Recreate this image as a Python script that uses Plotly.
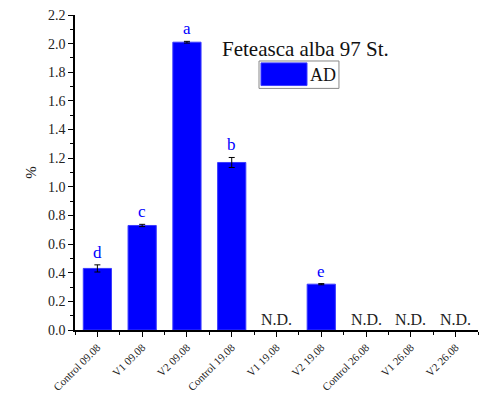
import plotly.graph_objects as go

categories = ["Control 09.08", "V1 09.08", "V2 09.08", "Control 19.08", "V1 19.08",
              "V2 19.08", "Control 26.08", "V1 26.08", "V2 26.08"]
values = [0.43, 0.73, 2.01, 1.17, None, 0.32, None, None, None]
errors = [0.025, 0.008, 0.006, 0.035, 0, 0.004, 0, 0, 0]
letters = ["d", "c", "a", "b", "", "e", "", "", ""]
nd_label = "N.D."
series_name = "AD"
title_text = "Feteasca alba 97 St."
y_ticks = [0.0, 0.2, 0.4, 0.6, 0.8, 1.0, 1.2, 1.4, 1.6, 1.8, 2.0, 2.2]

FONT = "Liberation Serif"
BLUE = "#0000ff"

xs = list(range(len(categories)))
fig = go.Figure()
fig.add_trace(go.Bar(
    x=xs, y=values,
    width=0.63, marker=dict(color=BLUE, line=dict(color="#3b3bff", width=1)),
    error_y=dict(type="data", array=errors, color="black", thickness=1, width=3),
    name=series_name, showlegend=False,
))

ann = []
for i, (v, e, l) in enumerate(zip(values, errors, letters)):
    if v is None:
        ann.append(dict(x=i, y=0, xref="x", yref="y", text=nd_label, showarrow=False,
                        yanchor="bottom", yshift=0,
                        font=dict(family=FONT, size=16, color="#222")))
    elif l:
        ann.append(dict(x=i, y=v + e, xref="x", yref="y", text=l, showarrow=False,
                        yanchor="bottom", yshift=1,
                        font=dict(family=FONT, size=17, color=BLUE)))

ann.append(dict(x=0.573, y=0.891, xref="paper", yref="paper", text=title_text,
                showarrow=False, xanchor="center", yanchor="middle",
                font=dict(family=FONT, size=21, color="#111")))
ann.append(dict(x=0.579, y=0.81, xref="paper", yref="paper", text=series_name,
                showarrow=False, xanchor="left", yanchor="middle",
                font=dict(family=FONT, size=18, color="#111")))

shapes = [
    dict(type="rect", xref="paper", yref="paper", x0=0.4566, x1=0.655, y0=0.767, y1=0.854,
         line=dict(color="#888", width=1), fillcolor="white"),
    dict(type="rect", xref="paper", yref="paper", x0=0.4615, x1=0.5757, y0=0.776, y1=0.848,
         line=dict(color="#3b3bff", width=1), fillcolor=BLUE),
]

fig.update_layout(
    width=490, height=405,
    margin=dict(l=75, r=12, t=8, b=75),
    plot_bgcolor="white", paper_bgcolor="white",
    font=dict(family=FONT, size=13, color="#222"),
    annotations=ann, shapes=shapes,
)
fig.update_xaxes(
    range=[-0.5, 8.5], tickmode="array", tickvals=xs, ticktext=categories,
    tickangle=-45, tickfont=dict(family=FONT, size=11, color="#222"),
    showline=True, linecolor="black", linewidth=1.5, mirror=False,
    ticks="outside", ticklen=5, tickcolor="black", showgrid=False, zeroline=False,
    minor=dict(ticks="outside", ticklen=3, tick0=0.5, dtick=1, tickcolor="black", showgrid=False),
)
fig.update_yaxes(
    range=[0, 2.2], tickmode="array", tickvals=y_ticks,
    ticktext=[f"{t:.1f}" for t in y_ticks],
    tickfont=dict(family=FONT, size=14, color="#222"),
    showline=True, linecolor="black", linewidth=1.5,
    ticks="outside", ticklen=5, tickcolor="black", showgrid=False, zeroline=False,
    minor=dict(ticks="outside", ticklen=3, tick0=0.1, dtick=0.2, tickcolor="black", showgrid=False),
    title=dict(text="%", font=dict(family=FONT, size=15), standoff=8),
)

fig.write_html("out.html")
